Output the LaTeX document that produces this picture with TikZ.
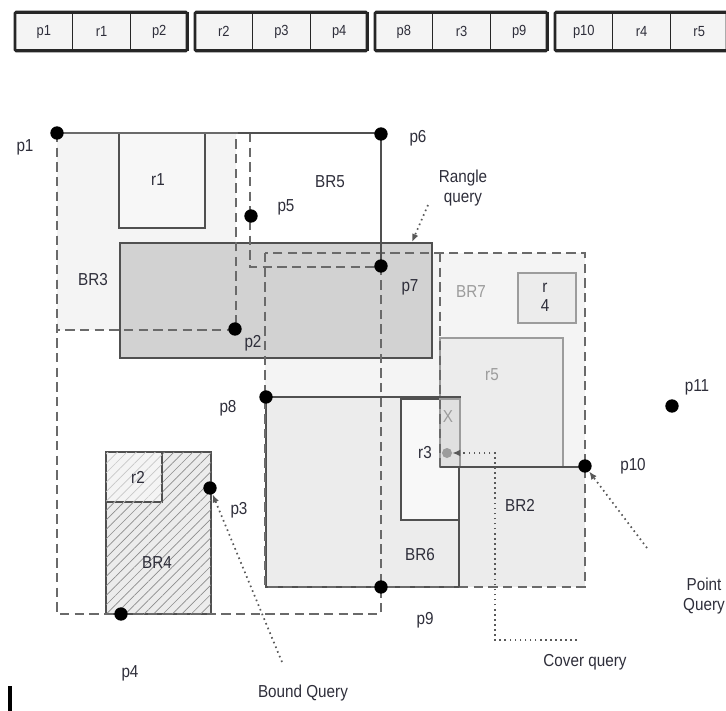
\documentclass[tikz,border=0pt]{standalone}
\usepackage{fontspec}
\setmainfont{Liberation Sans}[FakeStretch=0.88]
\usetikzlibrary{arrows.meta,patterns.meta}
\definecolor{ink}{HTML}{2E2E3A}
\definecolor{edge}{HTML}{505050}
\definecolor{dashgray}{HTML}{6A6A6A}
\definecolor{palefill}{HTML}{F4F4F4}
\definecolor{lightfill}{HTML}{ECECEC}
\definecolor{darkfill}{HTML}{D2D2D2}
\definecolor{faint}{HTML}{9C9C9C}
\tikzset{
  font=\fontsize{13}{15}\selectfont,
  lbl/.style={text=ink,inner sep=1pt},
  ghost/.style={text=faint,inner sep=1pt},
  dot/.style={circle,fill=black,inner sep=0pt,minimum size=10pt},
  rbox/.style={draw=edge,line width=1.1pt},
  soft/.style={draw=faint,line width=1pt},
  bbox/.style={draw=dashgray,dash pattern=on 7pt off 4pt,line width=1.4pt},
  hatch/.style={postaction={pattern={Lines[angle=45,distance=5pt,line width=0.5pt]},pattern color=#1}},
  cell/.style={draw=black!85,line width=1.2pt,fill=palefill,minimum width=43.3pt,minimum height=28pt,inner sep=0pt,font=\fontsize{11}{13}\selectfont,text=ink},
  group/.style={draw=black!85,line width=2pt,rounded corners=1pt},
  query/.style={-{Latex[length=6pt,width=5pt]},draw=black!65,dash pattern=on 1.2pt off 2.6pt,line width=1.3pt}
}
\begin{document}
\begin{tikzpicture}[x=0.75pt,y=-0.75pt]
  \useasboundingbox (0,0) rectangle (726,711);

  % node order stored on disk
  \foreach \t [count=\i from 0] in {p1,r1,p2,r2,p3,p4,p8,r3,p9,p10,r4,r5}{
    \pgfmathsetmacro\gx{15+180*int(\i/3)}
    \node[cell] (t-\t) at ({\gx+28.8+57.7*mod(\i,3)},31.5) {\t};
  }
  \foreach \gx in {15,195,375,555}
    \draw[group] (\gx,12) rectangle ({\gx+172},51);

  % fills
  \fill[palefill] (57,133) rectangle (236,330);
  \fill[palefill] (265,253) rectangle (585,587);
  \draw[rbox,fill=palefill!70] (119,133) rectangle (205,228);
  \draw[rbox,fill=darkfill] (120,243) rectangle (432,358);
  \draw[soft,fill=lightfill] (440,338) rectangle (563,467);
  \draw[soft,fill=lightfill] (518,273) rectangle (576,323);
  \draw[rbox,fill=lightfill] (266,397) rectangle (460,587);
  \fill[lightfill] (460,467) rectangle (585,587);
  \draw[rbox,line width=1.5pt,fill=palefill!60] (401,399) rectangle (459,520);
  \draw[soft,fill=black!12] (440,399) rectangle (460,467);
  \draw[rbox,fill=lightfill,hatch=black!45] (106,452) rectangle (211,614);
  \draw[rbox,fill=palefill,hatch=black!22] (106,452) rectangle (162,502);

  % bounding rectangles
  \draw[bbox] (57,133) rectangle (381,614);
  \draw[bbox] (57,133) rectangle (236,330);
  \draw[bbox] (250,133) rectangle (381,267);
  \draw[bbox] (265,253) rectangle (585,587);
  \draw[bbox] (440,253) -- (440,467);
  \draw[rbox] (238,133) -- (381,133) -- (381,266);
  \draw[rbox] (440,467) -- (585,467);
  \draw[rbox,line width=1.8pt] (459,467) -- (459,587);
  \draw[line width=2.4pt] (10,686) -- (10,711);

  % points
  \node[dot] (p1) at (57,133) {};
  \node[dot] (p2) at (235,329) {};
  \node[dot] (p3) at (210,488) {};
  \node[dot] (p4) at (121,614) {};
  \node[dot] (p5) at (251,216) {};
  \node[dot] (p6) at (381,134) {};
  \node[dot] (p7) at (381,266) {};
  \node[dot] (p8) at (266,397) {};
  \node[dot] (p9) at (381,587) {};
  \node[dot] (p10) at (585,466) {};
  \node[dot] (p11) at (672,406) {};
  \node[dot,fill=faint,minimum size=7.5pt] (r3dot) at (447,453) {};

  \node[lbl] (lp1) at (25,147) {p1};
  \node[lbl] (lp2) at (253,343) {p2};
  \node[lbl] (lp3) at (239,510) {p3};
  \node[lbl] (lp4) at (130,673) {p4};
  \node[lbl] (lp5) at (286,207) {p5};
  \node[lbl] (lp6) at (418,138) {p6};
  \node[lbl] (lp7) at (410,287) {p7};
  \node[lbl] (lp8) at (228,408) {p8};
  \node[lbl] (lp9) at (425,620) {p9};
  \node[lbl] (lp10) at (633,466) {p10};
  \node[lbl] (lp11) at (697,387) {p11};

  \node[lbl] (br3) at (93,280) {BR3};
  \node[lbl] (r1) at (158,180) {r1};
  \node[lbl] (br5) at (330,182) {BR5};
  \node[ghost] (br7) at (471,292) {BR7};
  \node[lbl,align=center,font=\fontsize{13}{14}\selectfont] (r4) at (545,297) {r\\4};
  \node[ghost] (r5) at (492,375) {r5};
  \node[ghost] (x) at (448,417) {X};
  \node[lbl] (r3) at (425,453) {r3};
  \node[lbl] (br6) at (420,555) {BR6};
  \node[lbl] (br2) at (520,505) {BR2};
  \node[lbl] (br4) at (157,563) {BR4};
  \node[lbl] (r2) at (138,477) {r2};

  % queries
  \node[lbl,align=center] (range) at (463,188) {Rangle\\query};
  \node[lbl,align=center] (point) at (704,596) {Point\\Query};
  \node[lbl] (bound) at (303,693) {Bound Query};
  \node[lbl] (cover) at (585,662) {Cover query};
  \coordinate (rq) at (428,205);
  \coordinate (rqtip) at (412,242);
  \coordinate (bq) at (282,662);
  \coordinate (pq) at (647,548);
  \coordinate (cq) at (577,640);
  \draw[query] (rq) -- (rqtip);
  \draw[query] (bq) -- (p3);
  \draw[query] (pq) -- (p10);
  \draw[query] (cq) -- (495,640) -- (495,453) -- (r3dot);
\end{tikzpicture}
\end{document}
